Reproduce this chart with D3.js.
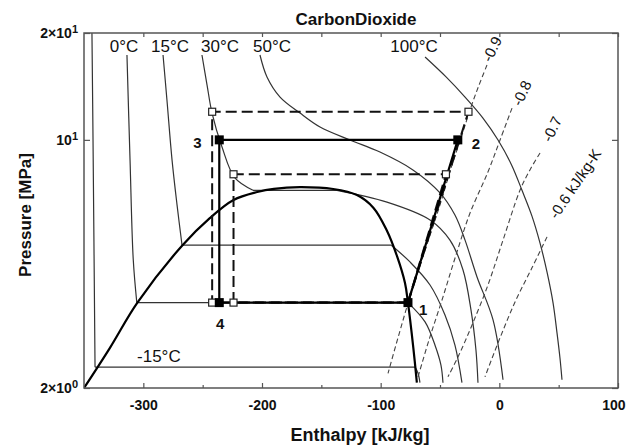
<!DOCTYPE html>
<html>
<head>
<meta charset="utf-8">
<script src="https://cdn.jsdelivr.net/npm/d3@7"></script>
<style>
  body { margin: 0; background: #fff; }
  svg { display: block; }
  text { font-family: "Liberation Sans", Arial, Helvetica, sans-serif; fill: #111; }
</style>
</head>
<body>
<svg id="chart" width="626" height="448"></svg>
<script>
// Pressure–enthalpy diagram of CO2 with isotherms, isentropes and three cycles.

// ---- axes ----
const hDomain = [-350, 100];
const pDomain = [2, 20];
const hTicks = [-300, -200, -100, 0, 100];
const hMinorTicks = [-250, -150, -50, 50];
const pTicks = [2, 10, 20];
const pTickMantissa = ["2×10", "10", "2×10"];
const pTickExponent = ["0", "1", "1"];

// ---- saturation dome (h kJ/kg, p MPa) ----
const dome = [
  [-350, 2.0], [-328, 2.6], [-305, 3.48], [-267, 5.05], [-244, 6.02], [-224, 6.77],
  [-204, 7.13], [-190, 7.28], [-168, 7.36], [-140, 7.27], [-120, 6.99], [-106, 6.43],
  [-95, 5.57], [-86, 4.68], [-79.5, 3.95], [-77, 3.48], [-72.5, 2.6], [-69.5, 2.07]
];

// ---- isotherms (consecutive points at equal pressure form the two-phase plateau) ----
const isoM15 = [[-343.3, 20], [-342.4, 10], [-340.7, 2.29], [-71, 2.29], [-68.5, 2.2], [-66.9, 2.07]];
const iso0 = [[-313.8, 17.34], [-311.2, 8.77], [-308.5, 4.6], [-305.5, 3.48], [-77, 3.48],
              [-62.6, 3.07], [-54.2, 2.64], [-49.2, 2.32], [-47.5, 2.07]];
const iso15 = [[-283.4, 17.34], [-280.1, 12.95], [-275.8, 8.77], [-271.6, 6.56], [-267.4, 5.05],
               [-91, 5.05], [-75.3, 4.53], [-58.4, 3.9], [-45.8, 3.21], [-37.4, 2.64], [-31.5, 2.07]];
const iso30 = [[-250.6, 17.34], [-246.3, 14.27], [-242.1, 11.9], [-233.7, 9.55], [-222.8, 7.81],
               [-207.6, 7.21], [-136.8, 7.21], [-94.7, 6.68], [-58.4, 5.95], [-41.6, 5.22],
               [-30.6, 4.3], [-23.9, 3.32], [-19.7, 2.56], [-18.0, 2.07]];
const iso50 = [[-201.7, 17.34], [-195.8, 15.04], [-184.8, 13.2], [-168.0, 11.9], [-151.1, 10.87],
               [-125.8, 9.99], [-100.6, 9.24], [-72.8, 8.23], [-50.0, 7.09], [-37.4, 6.14],
               [-28.9, 5.22], [-18.8, 4.11], [-5.3, 3.11], [3.1, 2.11]];
const iso100 = [[-62.6, 17.11], [-44.9, 15.04], [-28.9, 13.2], [-13.8, 11.52], [-1.1, 9.99],
                [10.3, 8.5], [19.1, 7.21], [27.5, 6.1], [34.3, 5.12], [40.2, 4.24],
                [45.3, 3.47], [48.6, 2.86], [51.1, 2.43], [52.8, 2.11]];
const isotherms = [isoM15, iso0, iso15, iso30, iso50, iso100];
const isothermNames = ["-15°C", "0°C", "15°C", "30°C", "50°C", "100°C"];
const isothermLabelH = [-305.3, -316.3, -277.5, -235.4, -191.6, -71.9];
const isothermLabelP = [2.37, 17.69, 17.69, 17.69, 17.69, 17.69];
const isothermLabelAnchor = ["start", "middle", "middle", "middle", "middle", "middle"];

// ---- isentropes ----
const s09 = [[-10.4, 16.25], [-17.1, 14.27], [-23.9, 12.37], [-31.5, 10.32], [-39.9, 8.5],
             [-50.0, 6.56], [-62.6, 4.89], [-76.1, 3.54], [-85.4, 2.77], [-93.8, 2.2]];
const s08 = [[10.7, 12.29], [0.6, 9.99], [-9.6, 8.12], [-24.7, 6.22], [-36.5, 4.74],
             [-48.3, 3.54], [-59.3, 2.73], [-68.5, 2.15]];
const s07 = [[34.3, 9.18], [25.8, 8.23], [17.4, 7.21], [3.1, 5.22], [-9.6, 3.9],
             [-23.0, 3.01], [-34.0, 2.48], [-43.3, 2.15]];
const s06 = [[40.2, 5.33], [27.5, 4.36], [14.0, 3.54], [0.6, 2.77], [-12.1, 2.15]];
const isentropes = [s09, s08, s07, s06];
const isentropeNames = ["-0.9", "-0.8", "-0.7", "-0.6 kJ/kg-K"];
const isentropeLabelH = [-7.0, 18.3, 43.5, 48.6];
const isentropeLabelP = [16.47, 12.37, 9.8, 5.95];
const isentropeLabelAngle = [-64, -65, -64, -56];

// ---- cycles: 1 (evaporator exit), 2 (compressor exit), 3 (gas cooler exit), 4 (valve exit) ----
const cycleMain = [[-77, 3.48], [-35, 10], [-236, 10], [-236, 3.48]];
const cycleHigh = [[-77, 3.48], [-26, 12], [-242, 12], [-242, 3.48]];
const cycleLow  = [[-77, 3.48], [-45, 8], [-224, 8], [-224, 3.48]];
const stateNames = ["1", "2", "3", "4"];

// ---- layout ----
const L = 84, R = 618, T = 33, B = 388;
const svg = d3.select("#chart");
const x = d3.scaleLinear().domain(hDomain).range([L, R]);
const y = d3.scaleLog().domain(pDomain).range([B, T]);

svg.append("defs").append("clipPath").attr("id", "plotClip")
  .append("rect").attr("x", L).attr("y", T).attr("width", R - L).attr("height", B - T);

const plot = svg.append("g").attr("clip-path", "url(#plotClip)");

const smooth = d3.line().x(d => x(d[0])).y(d => y(d[1])).curve(d3.curveCatmullRom.alpha(0.5));
const straight = d3.line().x(d => x(d[0])).y(d => y(d[1]));

// split an isotherm into curved single-phase runs and straight plateaus
function runs(pts) {
  const out = [];
  let cur = [pts[0]];
  for (let i = 1; i < pts.length; i++) {
    const a = pts[i - 1], b = pts[i];
    if (a[1] === b[1]) {
      if (cur.length > 1) out.push({ pts: cur, curved: true });
      out.push({ pts: [a, b], curved: false });
      cur = [b];
    } else {
      cur.push(b);
    }
  }
  if (cur.length > 1) out.push({ pts: cur, curved: true });
  return out;
}

// isotherms
isotherms.forEach(iso => {
  runs(iso).forEach(r => {
    plot.append("path")
      .attr("d", r.curved ? smooth(r.pts) : straight(r.pts))
      .attr("fill", "none").attr("stroke", "#333").attr("stroke-width", 1.2);
  });
});

// isentropes
isentropes.forEach(s => {
  plot.append("path").attr("d", smooth(s))
    .attr("fill", "none").attr("stroke", "#444").attr("stroke-width", 1.1)
    .attr("stroke-dasharray", "5,3");
});

// saturation dome
plot.append("path").attr("d", smooth(dome))
  .attr("fill", "none").attr("stroke", "#000").attr("stroke-width", 2.2);

// cycles
const closed = pts => straight(pts) + "Z";
[cycleHigh, cycleLow].forEach(c => {
  plot.append("path").attr("d", closed(c))
    .attr("fill", "none").attr("stroke", "#111").attr("stroke-width", 2)
    .attr("stroke-dasharray", "11,5");
});
plot.append("path").attr("d", closed(cycleMain))
  .attr("fill", "none").attr("stroke", "#000").attr("stroke-width", 2.2);

// state markers
[cycleHigh, cycleLow].forEach(c => {
  c.slice(1).forEach(d => {
    svg.append("rect").attr("x", x(d[0]) - 3.5).attr("y", y(d[1]) - 3.5)
      .attr("width", 7).attr("height", 7)
      .attr("fill", "#fff").attr("stroke", "#222").attr("stroke-width", 1.2);
  });
});
cycleMain.forEach(d => {
  svg.append("rect").attr("x", x(d[0]) - 4.5).attr("y", y(d[1]) - 4.5)
    .attr("width", 9).attr("height", 9).attr("fill", "#000");
});

// state numbers
const stateDx = [11, 14, -26, 1];
const stateDy = [12, 9, 8, 26];
const stateAnchor = ["start", "start", "start", "middle"];
cycleMain.forEach((d, i) => {
  svg.append("text").attr("x", x(d[0]) + stateDx[i]).attr("y", y(d[1]) + stateDy[i])
    .attr("text-anchor", stateAnchor[i])
    .attr("font-size", 15).attr("font-weight", "bold").text(stateNames[i]);
});

// isotherm labels
isothermNames.forEach((t, i) => {
  svg.append("text").attr("x", x(isothermLabelH[i])).attr("y", y(isothermLabelP[i]))
    .attr("text-anchor", isothermLabelAnchor[i]).attr("font-size", 17).text(t);
});

// isentrope labels
isentropeNames.forEach((t, i) => {
  const px = x(isentropeLabelH[i]), py = y(isentropeLabelP[i]);
  svg.append("text").attr("transform", `translate(${px},${py}) rotate(${isentropeLabelAngle[i]})`)
    .attr("font-size", 15).text(t);
});

// frame
svg.append("rect").attr("x", L).attr("y", T).attr("width", R - L).attr("height", B - T)
  .attr("fill", "none").attr("stroke", "#555").attr("stroke-width", 1.5);

function styleAxis(g) {
  g.select(".domain").remove();
  g.selectAll(".tick line").attr("stroke", "#555").attr("stroke-width", 1.2);
}

// bottom axis with labels; the last label is pulled inside the window edge
const bottom = svg.append("g").attr("transform", `translate(0,${B})`)
  .call(d3.axisBottom(x).tickValues(hTicks).tickSize(-5).tickPadding(12).tickFormat(d3.format("d")));
styleAxis(bottom);
bottom.selectAll("text").attr("font-size", 14).attr("font-weight", "bold")
  .attr("font-family", "'Liberation Sans', Arial, sans-serif").attr("fill", "#222")
  .text(d => d < 0 ? "-" + Math.abs(d) : String(d))
  .filter(d => d === hDomain[1]).attr("text-anchor", "end").attr("x", 625 - R);
svg.append("g").attr("transform", `translate(0,${B})`)
  .call(d3.axisBottom(x).tickValues(hMinorTicks).tickSize(-3).tickFormat(""))
  .call(styleAxis);

// top axis
svg.append("g").attr("transform", `translate(0,${T})`)
  .call(d3.axisTop(x).tickValues(hTicks.concat(hMinorTicks)).tickSize(-4).tickFormat(""))
  .call(styleAxis);

// left axis with power-of-ten labels
const left = svg.append("g").attr("transform", `translate(${L},0)`)
  .call(d3.axisLeft(y).tickValues(pTicks).tickSize(-6).tickPadding(6).tickFormat(""));
styleAxis(left);
left.selectAll(".tick text").each(function (d) {
  const k = pTicks.indexOf(d);
  const t = d3.select(this).attr("font-size", 14).attr("font-weight", "bold")
    .attr("font-family", "'Liberation Sans', Arial, sans-serif").attr("fill", "#222")
    .attr("dy", "0.35em");
  t.append("tspan").text(pTickMantissa[k]);
  t.append("tspan").attr("dy", "-0.5em").attr("font-size", 11).text(pTickExponent[k]);
});

// right axis
svg.append("g").attr("transform", `translate(${R},0)`)
  .call(d3.axisRight(y).tickValues(pTicks).tickSize(-6).tickFormat(""))
  .call(styleAxis);

// titles
svg.append("text").attr("x", 356).attr("y", 25).attr("text-anchor", "middle")
  .attr("font-size", 17).attr("font-weight", "bold").text("CarbonDioxide");
svg.append("text").attr("x", 360).attr("y", 441).attr("text-anchor", "middle")
  .attr("font-size", 18).attr("font-weight", "bold").text("Enthalpy [kJ/kg]");
svg.append("text").attr("transform", "translate(31,215) rotate(-90)").attr("text-anchor", "middle")
  .attr("font-size", 17).attr("font-weight", "bold").text("Pressure [MPa]");
</script>
</body>
</html>
